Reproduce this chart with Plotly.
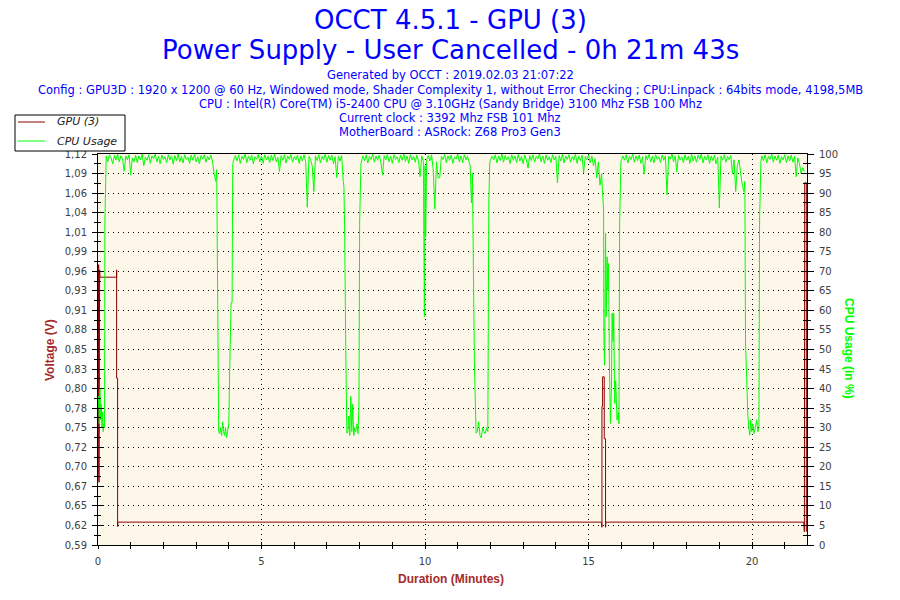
import plotly.graph_objects as go

# plot area in screen pixels; the page body adds an 8px offset
X0, Y0, X1, Y1 = 98, 154, 807, 545
OFF = 8
W, H = 900, 600

title_lines = ['OCCT 4.5.1 - GPU (3)', 'Power Supply - User Cancelled - 0h 21m 43s']
info_lines = [
    'Generated by OCCT : 2019.02.03 21:07:22',
    'Config : GPU3D : 1920 x 1200 @ 60 Hz, Windowed mode, Shader Complexity 1, without Error Checking ; CPU:Linpack : 64bits mode, 4198,5MB',
    'CPU : Intel(R) Core(TM) i5-2400 CPU @ 3.10GHz (Sandy Bridge) 3100 Mhz FSB 100 Mhz',
    'Current clock : 3392 Mhz FSB 101 Mhz',
    'MotherBoard : ASRock: Z68 Pro3 Gen3',
]
legend_names = ['GPU (3)', 'CPU Usage']

volt_ticktext = ['0,59', '0,62', '0,65', '0,67', '0,70', '0,72', '0,75', '0,78', '0,80', '0,83', '0,85',
                 '0,88', '0,91', '0,93', '0,96', '0,99', '1,01', '1,04', '1,06', '1,09', '1,12']
volt_min, volt_max = 0.59, 1.12
x_max = 21.68
x_ticks = [0, 5, 10, 15, 20]

# GPU (3) voltage, minutes / volts
gpu_time = [0.00, 0.02, 0.03, 0.05, 0.06, 0.57, 0.57, 0.57, 0.60, 0.60, 0.61,
            15.40, 15.41, 15.41, 15.43, 15.43, 15.48, 15.48, 15.52, 15.52, 15.53,
            21.58, 21.60, 21.61, 21.66, 21.66]
gpu_volt = [0.68, 0.97, 0.675, 0.963, 0.953, 0.953, 0.963, 0.816, 0.816, 0.615, 0.621,
            0.621, 0.614, 0.778, 0.778, 0.818, 0.818, 0.734, 0.734, 0.614, 0.621,
            0.621, 0.608, 1.081, 1.081, 0.608]

# CPU usage, minutes / percent
cpu_time = [
    0.00, 0.02, 0.04, 0.06, 0.08, 0.10, 0.12, 0.14, 0.16, 0.18, 0.20, 0.21,
    0.25, 0.30, 0.35, 0.40, 0.45, 0.50, 0.55, 0.60, 0.65, 0.70,
    0.75, 0.80, 0.85, 0.90, 0.95, 1.00, 1.05, 1.10, 1.15, 1.20,
    1.25, 1.30, 1.35, 1.40, 1.45, 1.50, 1.55, 1.60, 1.65, 1.70,
    1.75, 1.80, 1.85, 1.90, 1.95, 2.00, 2.05, 2.10, 2.15, 2.20,
    2.25, 2.30, 2.35, 2.40, 2.45, 2.50, 2.55, 2.60, 2.65, 2.70,
    2.75, 2.80, 2.85, 2.90, 2.95, 3.00, 3.05, 3.10, 3.15, 3.20,
    3.25, 3.30, 3.35, 3.40, 3.45, 3.50,
    3.55, 3.60, 3.63, 3.66, 3.69,
    3.72, 3.75, 3.78, 3.81, 3.84, 3.87, 3.90, 3.93, 3.96, 4.00, 4.03, 4.07, 4.10, 4.12,
    4.15, 4.20, 4.25, 4.30, 4.35, 4.40, 4.45, 4.50, 4.55, 4.60,
    4.65, 4.70, 4.75, 4.80, 4.85, 4.90, 4.95, 5.00, 5.05, 5.10,
    5.15, 5.20, 5.25, 5.30, 5.35, 5.40, 5.45, 5.50, 5.55, 5.60,
    5.65, 5.70, 5.75, 5.80, 5.85, 5.90, 5.95, 6.00, 6.05, 6.10,
    6.15, 6.20, 6.25, 6.30, 6.35, 6.40, 6.45, 6.50, 6.55, 6.60,
    6.65, 6.70, 6.75, 6.80, 6.85, 6.90, 6.95, 7.00, 7.05, 7.10,
    7.15, 7.20, 7.25, 7.30, 7.35, 7.40, 7.45,
    7.47, 7.50, 7.52, 7.54, 7.58, 7.61,
    7.64, 7.67, 7.70, 7.73, 7.76, 7.79, 7.82, 7.85, 7.88, 7.92, 7.95, 7.98, 8.00, 8.04,
    8.10, 8.15, 8.20, 8.25, 8.30, 8.35, 8.40, 8.45, 8.50, 8.55,
    8.60, 8.65, 8.70, 8.75, 8.80, 8.85, 8.90, 8.95, 9.00, 9.05,
    9.10, 9.15, 9.20, 9.25, 9.30, 9.35, 9.40, 9.45, 9.50, 9.55,
    9.60, 9.65, 9.70, 9.75, 9.80, 9.85, 9.90,
    9.95, 9.98, 10.00, 10.02, 10.05,
    10.10, 10.15, 10.20, 10.25, 10.30, 10.35, 10.40, 10.45, 10.50, 10.55,
    10.60, 10.65, 10.70, 10.75, 10.80, 10.85, 10.90, 10.95, 11.00, 11.05,
    11.10, 11.15, 11.20, 11.25, 11.30, 11.35,
    11.38, 11.42, 11.45, 11.47, 11.51, 11.56,
    11.60, 11.64, 11.68, 11.72, 11.76, 11.80, 11.84, 11.88, 11.92, 11.95, 11.98,
    12.05, 12.10, 12.15, 12.20, 12.25, 12.30, 12.35, 12.40, 12.45, 12.50,
    12.55, 12.60, 12.65, 12.70, 12.75, 12.80, 12.85, 12.90, 12.95, 13.00,
    13.05, 13.10, 13.15, 13.20, 13.25, 13.30, 13.35, 13.40, 13.45, 13.50,
    13.55, 13.60, 13.65, 13.70, 13.75, 13.80, 13.85, 13.90, 13.95, 14.00,
    14.05, 14.10, 14.15, 14.20, 14.25, 14.30, 14.35, 14.40, 14.45, 14.50,
    14.55, 14.60, 14.65, 14.70, 14.75, 14.80, 14.85, 14.90, 14.95, 15.00,
    15.05, 15.10, 15.15, 15.20, 15.25, 15.30, 15.35,
    15.40, 15.42, 15.46, 15.47, 15.49, 15.50, 15.52, 15.54, 15.57, 15.59, 15.61,
    15.64, 15.67, 15.70, 15.72, 15.75, 15.77, 15.80, 15.83, 15.87, 15.91, 15.93, 15.95, 15.99,
    16.05, 16.10, 16.15, 16.20, 16.25, 16.30, 16.35, 16.40, 16.45, 16.50,
    16.55, 16.60, 16.65, 16.70, 16.75, 16.80, 16.85, 16.90, 16.95, 17.00,
    17.05, 17.10, 17.15, 17.20, 17.25, 17.30, 17.35, 17.40, 17.45, 17.50,
    17.55, 17.60, 17.65, 17.70, 17.75, 17.80, 17.85, 17.90, 17.95, 18.00,
    18.05, 18.10, 18.15, 18.20, 18.25, 18.30, 18.35, 18.40, 18.45, 18.50,
    18.55, 18.60, 18.65, 18.70, 18.75, 18.80, 18.85, 18.90, 18.95, 19.00,
    19.05, 19.10, 19.15, 19.20, 19.25, 19.30, 19.35, 19.40, 19.45, 19.50,
    19.55, 19.60, 19.65, 19.70, 19.75,
    19.78, 19.80, 19.83, 19.87,
    19.90, 19.93, 19.96, 19.99, 20.02, 20.06, 20.10, 20.14, 20.18, 20.21, 20.23, 20.27,
    20.30, 20.35, 20.40, 20.45, 20.50, 20.55, 20.60, 20.65, 20.70, 20.75,
    20.80, 20.85, 20.90, 20.95, 21.00, 21.05, 21.10, 21.15, 21.20, 21.25,
    21.30, 21.35, 21.40, 21.45, 21.50, 21.55, 21.60,
]
cpu_usage = [
    35, 38, 31, 40, 32, 36, 30, 34, 29, 31, 30, 82,
    99.5, 98, 99.8, 99, 97.5, 99.6, 98.5, 100, 98, 99.5,
    98.8, 95.6, 99.5, 98.5, 99.8, 94.7, 99, 98, 99.7, 97.8,
    99.5, 98.5, 100, 97, 99.2, 98.4, 99.8, 97.6, 99.5, 98.8,
    99.9, 98, 99.4, 97.5, 99.7, 98.6, 99.3, 97.8, 99.8, 98.5,
    99.5, 97.4, 99.6, 98.3, 100, 98, 99.4, 97.7, 99.8, 98.6,
    99.2, 97.6, 99.7, 98.4, 99.9, 98, 99.3, 97.5, 99.6, 98.7,
    99.8, 97.9, 99.4, 98.5, 99.7, 98.2,
    95, 93, 96, 69, 29,
    28.5, 30, 28, 31.5, 29, 28, 30, 27.5, 29, 31, 46, 62, 62, 97.5,
    98.5, 99.6, 98.2, 99.8, 97.6, 99.4, 98.6, 100, 97.8, 99.5,
    98.4, 99.7, 97.5, 99.3, 98.7, 99.9, 98, 99.5, 97.6, 99.8,
    98.5, 99.4, 97.8, 99.7, 98.3, 100, 98, 99.2, 95.5, 99.6,
    98.4, 99.8, 97.7, 99.5, 98.6, 99.9, 97.9, 99.3, 98.5, 99.7,
    97.6, 99.5, 98.2, 99.8, 98, 86.4, 99.4, 98.6, 97, 90.4,
    99.5, 98.3, 99.8, 97.7, 99.4, 98.5, 100, 97.9, 99.6, 98.4,
    99.7, 97.5, 99.3, 94, 99.5, 98.2, 99.6,
    96, 93, 91.6, 81.6, 47.3, 28.6,
    29, 33, 28, 38, 29, 36, 28, 30, 29, 31, 28.5, 35.8, 82, 97.5,
    99.5, 98.3, 99.8, 97.7, 99.4, 98.6, 100, 97.9, 99.5, 98.4,
    99.7, 97.8, 94.6, 99.6, 98.5, 99.9, 98, 99.4, 97.6, 99.8,
    98.6, 99.3, 97.8, 99.7, 98.4, 100, 98.1, 99.5, 97.6, 99.8,
    98.5, 99.4, 97.9, 99.7, 98.3, 94.2, 99.5,
    98, 58.4, 97, 78.9, 98.5,
    99.6, 98.2, 99.8, 96, 85.9, 98, 93.9, 94, 99.4, 98.6,
    99.9, 97.8, 99.5, 98.4, 99.7, 97.6, 99.3, 98.7, 100, 98,
    99.5, 97.7, 99.8, 98.5, 99.4, 97.9,
    97, 87.5, 95, 78.2, 46.9, 28.6,
    29, 31.5, 28, 27.4, 30, 29, 28.5, 30, 29, 87.5, 98,
    99.4, 98.5, 99.8, 97.7, 99.5, 98.3, 100, 97.9, 99.6, 98.6,
    99.3, 97.6, 99.8, 98.4, 99.5, 97.8, 99.9, 98.2, 99.4, 97.5,
    99.7, 98.5, 96.4, 99.6, 98.3, 99.8, 97.9, 99.4, 98.7, 100,
    98, 99.5, 97.6, 99.7, 98.4, 99.3, 97.8, 99.8, 98.5, 99.4,
    92.6, 99.6, 98.2, 99.9, 97.7, 99.5, 98.6, 99.8, 97.9, 99.3,
    98.4, 100, 97.6, 99.5, 98.3, 99.7, 95.2, 99.4, 98.6, 99.8,
    97.8, 99.5, 97, 98.8, 93.9, 98, 92,
    95, 91.3, 85.7, 52.9, 46, 56, 79.7, 58.4, 73.7, 65.2, 72,
    45, 31.1, 40, 59.3, 52, 59.3, 36.2, 42, 32, 34, 31, 82, 98,
    99.5, 98.4, 99.8, 97.7, 99.4, 98.6, 100, 97.9, 99.5, 98.3,
    99.7, 97.6, 99.3, 94.9, 99.6, 98.5, 99.9, 98, 99.4, 97.7,
    99.8, 98.6, 99.3, 97.8, 99.7, 98.4, 99.5, 89.6, 99.4, 98.7,
    100, 98, 99.5, 95.4, 99.7, 98.5, 99.3, 97.8, 99.8, 98.4,
    99.4, 97.6, 99.9, 98.2, 99.5, 97.9, 99.7, 98.6, 100, 97.7,
    99.4, 98.5, 99.8, 97.6, 99.5, 98.3, 99.7, 97.5, 99.2, 86.2,
    99.5, 98.4, 99.8, 97.9, 99.4, 98.6, 99.6, 95, 98.5, 90.4,
    97, 98.5, 95, 92, 90.4,
    93, 51.8, 42.6, 33.5,
    30, 28.1, 32, 29, 31, 28.5, 30, 32, 29, 30, 83.1, 98,
    99.5, 98.3, 99.8, 97.7, 99.4, 98.6, 100, 97.9, 99.5, 98.4,
    99.7, 97.6, 99.3, 98.5, 99.8, 97.8, 99.5, 98.2, 99.7, 97.9,
    99.4, 94.2, 99, 97.5, 95, 96.5, 95.5,
]
assert len(cpu_time) == len(cpu_usage)
assert len(gpu_time) == len(gpu_volt)

RED = '#8b0000'
GREEN = '#00ff00'
BLUE = '#0000ff'
TITLERED = '#a52a2a'
TICKGREY = '#404040'
FONT = 'DejaVu Sans'


def px_x(px):
    return (px - X0) / (X1 - X0)


def px_y(py):
    return (Y1 - py) / (Y1 - Y0)


fig = go.Figure()
fig.add_trace(go.Scatter(x=cpu_time, y=cpu_usage, mode='lines', name=legend_names[1],
                         line=dict(color=GREEN, width=1), yaxis='y2'))
fig.add_trace(go.Scatter(x=gpu_time, y=gpu_volt, mode='lines', name=legend_names[0],
                         line=dict(color=RED, width=1)))
# empty traces so the overlay axes (inner half of the crossing ticks) get drawn
fig.add_trace(go.Scatter(x=[None], y=[None], xaxis='x2', yaxis='y3', hoverinfo='skip'))
fig.add_trace(go.Scatter(x=[None], y=[None], xaxis='x2', yaxis='y4', hoverinfo='skip'))

volt_step = (volt_max - volt_min) / 20
volt_tickvals = [round(volt_min + i * volt_step, 5) for i in range(21)]
volt_minor = [round(v + volt_step / 2, 5) for v in volt_tickvals[:-1]]

tickfont = dict(family=FONT, size=10, color=TICKGREY)
grid = dict(showgrid=True, gridcolor='black', griddash='1px,4px', gridwidth=1)
fig.update_layout(
    width=W, height=H,
    margin=dict(l=X0 - OFF, r=W - (X1 - OFF), t=Y0 - OFF, b=H - (Y1 - OFF), autoexpand=False),
    paper_bgcolor='white', plot_bgcolor='#fdf7ea',
    showlegend=False,
    xaxis=dict(range=[0, x_max], tickvals=x_ticks, ticks='outside', ticklen=3,
               tickcolor='black', tickfont=tickfont, ticklabelstandoff=4,
               minor=dict(dtick=1, tick0=0, ticks='outside', ticklen=3, tickcolor='black'),
               showline=True, linecolor='black', linewidth=1, mirror=True, zeroline=False, **grid),
    xaxis2=dict(range=[0, x_max], overlaying='x', anchor='y', tickvals=x_ticks, ticks='inside',
                ticklen=3, tickcolor='black', showticklabels=False, showgrid=False,
                minor=dict(dtick=1, tick0=0, ticks='inside', ticklen=3, tickcolor='black'),
                showline=False, zeroline=False),
    yaxis=dict(range=[volt_min, volt_max], tickvals=volt_tickvals, ticktext=volt_ticktext,
               ticks='outside', ticklen=5, tickcolor='black', tickfont=tickfont,
               ticklabelstandoff=3,
               minor=dict(tickvals=volt_minor, ticks='outside', ticklen=3, tickcolor='black'),
               showline=True, linecolor='black', linewidth=1, zeroline=False, **grid),
    yaxis3=dict(range=[volt_min, volt_max], overlaying='y', anchor='x', side='left',
                tickvals=volt_tickvals, ticks='inside', ticklen=6, tickcolor='black',
                minor=dict(tickvals=volt_minor, ticks='inside', ticklen=3, tickcolor='black'),
                showticklabels=False, showgrid=False, showline=False, zeroline=False),
    yaxis2=dict(range=[0, 100], dtick=5, overlaying='y', side='right',
                ticks='outside', ticklen=6, tickcolor='black', tickfont=tickfont,
                ticklabelstandoff=3,
                minor=dict(dtick=2.5, ticks='outside', ticklen=3, tickcolor='black'),
                showgrid=False, showline=True, linecolor='black', linewidth=1, zeroline=False),
    yaxis4=dict(range=[0, 100], dtick=5, overlaying='y', anchor='x', side='right',
                ticks='inside', ticklen=6, tickcolor='black',
                minor=dict(dtick=2.5, ticks='inside', ticklen=4, tickcolor='black'),
                showticklabels=False, showgrid=False, showline=False, zeroline=False),
)

ann = []
for line, py in zip(title_lines, [20, 50]):
    ann.append(dict(text=line, x=px_x(450), y=px_y(py), font=dict(family=FONT, size=26, color=BLUE)))
for line, py in zip(info_lines, [75, 90, 104, 118, 132]):
    ann.append(dict(text=line, x=px_x(450), y=px_y(py), font=dict(family=FONT, size=11.5, color=BLUE)))
ann.append(dict(text='<b>Voltage (V)</b>', x=px_x(50), y=px_y(350), textangle=-90,
                font=dict(family='Liberation Sans', size=12, color=TITLERED)))
ann.append(dict(text='<b>CPU Usage (in %)</b>', x=px_x(849), y=px_y(349), textangle=90,
                font=dict(family='Liberation Sans', size=12, color=GREEN)))
ann.append(dict(text='<b>Duration (Minutes)</b>', x=px_x(451), y=px_y(579),
                font=dict(family='Liberation Sans', size=12, color=TITLERED)))
# hand-drawn legend box, as in the original
for name, py in zip(legend_names, [122, 141]):
    ann.append(dict(text='<i>' + name + '</i>', x=px_x(55), y=px_y(py), xanchor='left',
                    font=dict(family=FONT, size=11, color='#202020')))
for a in ann:
    a.setdefault('xanchor', 'center')
    a.update(xref='paper', yref='paper', yanchor='middle', showarrow=False)

shapes = [dict(type='rect', x0=px_x(15), x1=px_x(125), y0=px_y(115), y1=px_y(151),
               fillcolor='white', line=dict(color='black', width=1))]
for color, py in zip([RED, GREEN], [122, 141]):
    shapes.append(dict(type='line', x0=px_x(18), x1=px_x(45), y0=px_y(py), y1=px_y(py),
                       line=dict(color=color, width=1)))
for s in shapes:
    s.update(xref='paper', yref='paper', layer='above')

fig.update_layout(annotations=ann, shapes=shapes)

fig.write_html('out.html')
